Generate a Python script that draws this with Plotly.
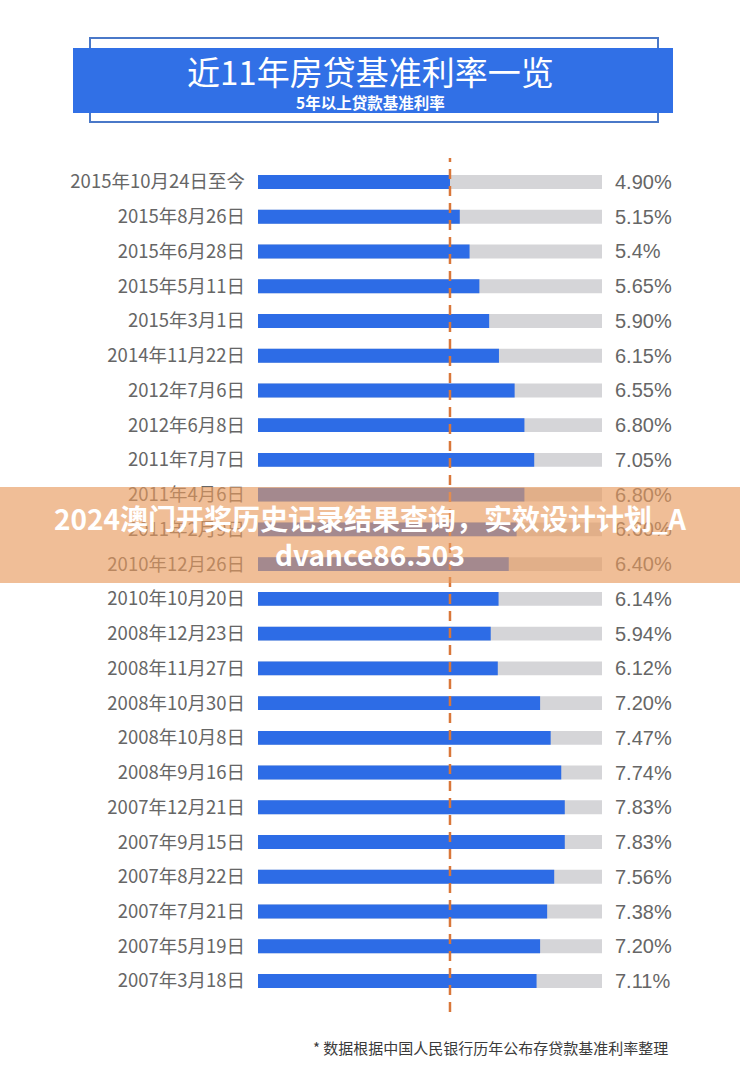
import plotly.graph_objects as go

W, H = 740, 1073

title = "近11年房贷基准利率一览"
subtitle = "5年以上贷款基准利率"
footer = "* 数据根据中国人民银行历年公布存贷款基准利率整理"
banner = "2024澳门开奖历史记录结果查询，实效设计计划_A<br>dvance86.503"

dates = ["2015年10月24日至今", "2015年8月26日", "2015年6月28日", "2015年5月11日",
         "2015年3月1日", "2014年11月22日", "2012年7月6日", "2012年6月8日",
         "2011年7月7日", "2011年4月6日", "2011年2月9日", "2010年12月26日",
         "2010年10月20日", "2008年12月23日", "2008年11月27日", "2008年10月30日",
         "2008年10月8日", "2008年9月16日", "2007年12月21日", "2007年9月15日",
         "2007年8月22日", "2007年7月21日", "2007年5月19日", "2007年3月18日"]
rates = [4.90, 5.15, 5.40, 5.65, 5.90, 6.15, 6.55, 6.80, 7.05, 6.80, 6.60, 6.40,
         6.14, 5.94, 6.12, 7.20, 7.47, 7.74, 7.83, 7.83, 7.56, 7.38, 7.20, 7.11]
rate_labels = ["4.90%", "5.15%", "5.4%", "5.65%", "5.90%", "6.15%", "6.55%", "6.80%",
               "7.05%", "6.80%", "6.60%", "6.40%", "6.14%", "5.94%", "6.12%", "7.20%",
               "7.47%", "7.74%", "7.83%", "7.83%", "7.56%", "7.38%", "7.20%", "7.11%"]
track_max = 8.78
current_rate = rates[0]

BLUE = "#2D6CE6"
GRAY = "#D5D5D8"
TXT = "#666666"
ORANGE = "#D9773A"
FONT = "Noto Sans CJK SC"

def py(p):  # pixel -> paper y
    return 1 - p / H

def px(p):
    return p / W

n = len(dates)
row0, step = 182, (981 - 182) / (n - 1)
yr = [(H - row0) / step, -row0 / step]

fig = go.Figure()
fig.add_trace(go.Bar(y=dates, x=[track_max] * n, orientation="h", marker_color=GRAY,
                     marker_line_width=0, width=0.4, hoverinfo="skip"))
fig.add_trace(go.Bar(y=dates, x=rates, orientation="h", marker_color=BLUE,
                     marker_line_width=0, width=0.4, hoverinfo="skip"))
fig.add_trace(go.Scatter(y=dates, x=[0] * n, yaxis="y2", mode="markers",
                         marker_opacity=0, showlegend=False, hoverinfo="skip"))

fig.update_layout(
    width=W, height=H, margin=dict(l=0, r=0, t=0, b=0),
    paper_bgcolor="white", plot_bgcolor="white", showlegend=False,
    barmode="overlay", font=dict(family=FONT),
    xaxis=dict(domain=[px(258), px(602)], range=[0, track_max], visible=False,
               fixedrange=True),
    yaxis=dict(type="category", categoryarray=dates, range=yr, showgrid=False,
               zeroline=False, showline=False, ticks="", ticklabelstandoff=12,
               tickfont=dict(size=18.5, color=TXT, family=FONT)),
    yaxis2=dict(type="category", categoryarray=dates, overlaying="y", side="right",
                anchor="x", range=yr, showgrid=False, zeroline=False, showline=False,
                ticks="", tickmode="array", tickvals=dates, ticktext=rate_labels,
                ticklabelstandoff=12,
                tickfont=dict(size=20, color=TXT, family="Liberation Sans")),
)

shapes = [
    # title box frame
    dict(type="rect", xref="paper", yref="paper", x0=px(90), x1=px(658), y0=py(122), y1=py(38),
         line=dict(color="#4A78C8", width=2), fillcolor="rgba(0,0,0,0)", layer="below"),
    dict(type="rect", xref="paper", yref="paper", x0=px(73), x1=px(673), y0=py(113), y1=py(48),
         line=dict(width=0), fillcolor="#3170E6", layer="below"),
    # dashed reference line at current rate
    dict(type="line", xref="x", yref="paper", x0=current_rate, x1=current_rate,
         y0=py(1012), y1=py(158), line=dict(color=ORANGE, width=2.5, dash="10px,7px"),
         layer="above"),
    # overlay banner
    dict(type="rect", xref="paper", yref="paper", x0=0, x1=1, y0=py(583), y1=py(487),
         line=dict(width=0), fillcolor="rgba(232,154,92,0.64)", layer="above"),
]
fig.update_layout(shapes=shapes)

ann = [
    dict(text=title, x=0.5, y=py(71), xref="paper", yref="paper", showarrow=False,
         font=dict(size=33, color="white", family=FONT), yanchor="middle"),
    dict(text="<b>" + subtitle + "</b>", x=0.5, y=py(102), xref="paper", yref="paper",
         showarrow=False, font=dict(size=15.5, color="white", family=FONT), yanchor="middle"),
    dict(text="<b>" + banner + "</b>", x=0.5, y=py(536), xref="paper", yref="paper",
         showarrow=False, font=dict(size=28, color="white", family=FONT),
         yanchor="middle", align="center"),
    dict(text=footer, x=px(670), y=py(1047), xref="paper", yref="paper", showarrow=False,
         xanchor="right", yanchor="middle", font=dict(size=15, color="#3A3A3A", family=FONT)),
]
fig.update_layout(annotations=ann)

fig.write_html("out.html", post_script="document.body.style.margin='0';",
               config={"displayModeBar": False})
